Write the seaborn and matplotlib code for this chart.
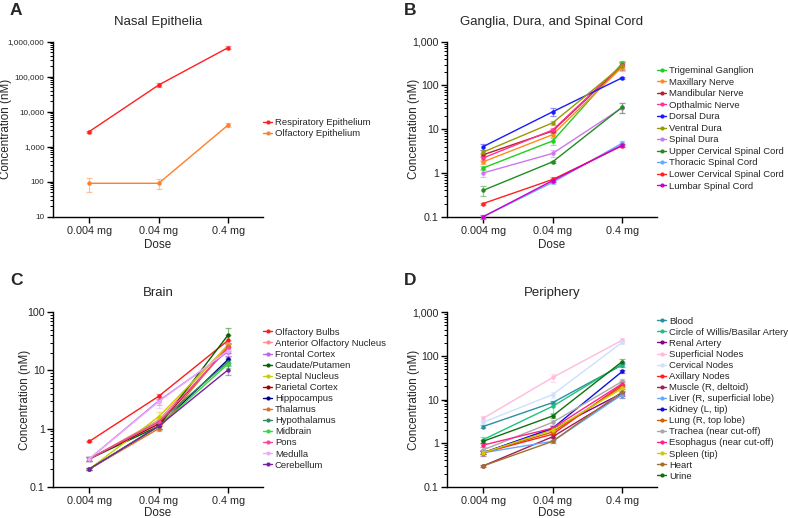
import numpy as np
import pandas as pd
import matplotlib
matplotlib.use("Agg")
import matplotlib.pyplot as plt
import seaborn as sns
from matplotlib.ticker import FuncFormatter, LogLocator, NullFormatter
from matplotlib.lines import Line2D

# ---------------- data ----------------
doses = ["0.004 mg", "0.04 mg", "0.4 mg"]

A_names = ["Respiratory Epithelium", "Olfactory Epithelium"]
A_colors = ["#ff2020", "#ff7f2a"]
A_values = [[2700, 58000, 680000],
            [90, 90, 4200]]
A_err = [[200, 8000, 70000],
         [40, 28, 600]]

B_names = ["Trigeminal Ganglion", "Maxillary Nerve", "Mandibular Nerve", "Opthalmic Nerve",
           "Dorsal Dura", "Ventral Dura", "Spinal Dura", "Upper Cervical Spinal Cord",
           "Thoracic Spinal Cord", "Lower Cervical Spinal Cord", "Lumbar Spinal Cord"]
B_colors = ["#22cc22", "#ff8c1a", "#b22234", "#ff3399", "#1a1aff", "#999900",
            "#cc77ee", "#228b22", "#66aaff", "#ff2020", "#cc00cc"]
B_values = [[1.3, 5.4, 320],
            [1.8, 7.5, 265],
            [2.6, 9.1, 290],
            [2.2, 9.6, 300],
            [4.0, 25, 150],
            [3.0, 14, 280],
            [1.0, 2.8, 31],
            [0.40, 1.8, 32],
            [0.10, 0.61, 4.8],
            [0.20, 0.71, 4.2],
            [0.10, 0.67, 4.3]]
B_err = [[0.15, 1.0, 40],
         [0.2, 1.0, 50],
         [0.3, 1.0, 60],
         [0.3, 1.0, 50],
         [0.6, 5.0, 10],
         [0.3, 1.5, 40],
         [0.2, 0.5, 8],
         [0.1, 0.1, 8],
         [0.01, 0.05, 0.5],
         [0.01, 0.08, 0.3],
         [0.01, 0.05, 0.3]]

C_names = ["Olfactory Bulbs", "Anterior Olfactory Nucleus", "Frontal Cortex", "Caudate/Putamen",
           "Septal Nucleus", "Parietal Cortex", "Hippocampus", "Thalamus", "Hypothalamus",
           "Midbrain", "Pons", "Medulla", "Cerebellum"]
C_colors = ["#ff1a1a", "#ff8c8c", "#bb66ee", "#006400", "#cccc00", "#aa0000", "#000088",
            "#e07020", "#338866", "#33dd33", "#ff4499", "#eeaaff", "#7a1fa2"]
C_values = [[0.60, 3.6, 33],
            [0.30, 1.4, 28],
            [0.30, 3.0, 21],
            [0.30, 1.1, 41],
            [0.20, 1.6, 27],
            [0.30, 1.2, 25],
            [0.20, 1.1, 15.5],
            [0.20, 1.0, 26],
            [0.30, 1.3, 14],
            [0.20, 1.1, 13],
            [0.30, 1.3, 24],
            [0.30, 2.9, 22],
            [0.20, 1.1, 10.3]]
C_err = [[0.02, 0.4, 8],
         [0.02, 0.2, 5],
         [0.02, 0.5, 4],
         [0.02, 0.1, 12],
         [0.01, 0.3, 5],
         [0.02, 0.1, 5],
         [0.01, 0.1, 2],
         [0.01, 0.1, 4],
         [0.02, 0.1, 2],
         [0.01, 0.1, 2],
         [0.02, 0.2, 4],
         [0.02, 0.6, 4],
         [0.01, 0.1, 2]]

D_names = ["Blood", "Circle of Willis/Basilar Artery", "Renal Artery", "Superficial Nodes",
           "Cervical Nodes", "Axillary Nodes", "Muscle (R, deltoid)", "Liver (R, superficial lobe)",
           "Kidney (L, tip)", "Lung (R, top lobe)", "Trachea (near cut-off)",
           "Esophagus (near cut-off)", "Spleen (tip)", "Heart", "Urine"]
D_colors = ["#2a90a0", "#20c080", "#880088", "#ffbbdd", "#cce0ff", "#ff2222", "#a0205a",
            "#66aaff", "#1010dd", "#d06000", "#a8a8a8", "#ff2288", "#cccc00", "#a07030", "#107010"]
D_values = [[2.4, 8.5, 62],
            [1.2, 7.0, 65],
            [0.6, 2.1, 14],
            [3.7, 32, 230],
            [3.0, 13, 205],
            [0.6, 1.6, 22],
            [0.3, 1.4, 13],
            [0.6, 1.1, 13],
            [0.6, 2.2, 44],
            [0.6, 1.8, 20],
            [0.7, 3.0, 26],
            [0.9, 2.2, 23],
            [0.6, 2.0, 18],
            [0.3, 1.1, 15],
            [1.1, 4.2, 74]]
D_err = [[0.2, 0.8, 6],
         [0.2, 2.0, 8],
         [0.1, 0.2, 2],
         [0.5, 7, 30],
         [0.3, 2, 20],
         [0.05, 0.2, 3],
         [0.02, 0.1, 2],
         [0.05, 0.1, 2],
         [0.05, 0.3, 4],
         [0.05, 0.2, 3],
         [0.1, 0.4, 4],
         [0.1, 0.3, 3],
         [0.05, 0.2, 2],
         [0.02, 0.1, 2],
         [0.1, 0.5, 10]]

# ---------------- style ----------------
sns.set_theme(style="ticks")
plt.rcParams["font.family"] = ["Liberation Sans", "DejaVu Sans"]
plt.rcParams["axes.linewidth"] = 1.0

fig = plt.figure(figsize=(7.88, 5.18), dpi=100)

W, H = 788.0, 518.0
panels = [
    ("A", "Nasal Epithelia", A_names, A_colors, A_values, A_err, (53, 41.7, 263, 216.7), (10, 1e6), 12, 0.22, 2),
    ("B", "Ganglia, Dura, and Spinal Cord", B_names, B_colors, B_values, B_err, (447, 41.7, 657, 216.7), (0.1, 1e3), 420, 0.27, 2),
    ("C", "Brain", C_names, C_colors, C_values, C_err, (53, 312.3, 263, 486.7), (0.1, 1e2), 31, 0.22, 0.5),
    ("D", "Periphery", D_names, D_colors, D_values, D_err, (447, 312.3, 657, 486.7), (0.1, 1e3), 420, 0.22, 0.5),
]


def fmt(v, pos):
    if v < 1:
        return f"{v:g}"
    return f"{v:,.0f}"


for letter, title, names, colors, values, errs, box, ylim, ylab_x, lspace, xpad in panels:
    x0, y0, x1, y1 = box
    ax = fig.add_axes([x0 / W, 1 - y1 / H, (x1 - x0) / W, (y1 - y0) / H])
    rows = []
    for n, vals in zip(names, values):
        for i, v in enumerate(vals):
            rows.append({"Tissue": n, "x": i, "Concentration": v})
    df = pd.DataFrame(rows)
    pal = dict(zip(names, colors))
    # error bars
    for n, c, vals, e in zip(names, colors, values, errs):
        ax.errorbar(range(3), vals, yerr=e, fmt="none", ecolor=c, alpha=0.45,
                    elinewidth=0.9, capsize=2, capthick=0.9, clip_on=False, zorder=2)
    sns.lineplot(data=df, x="x", y="Concentration", hue="Tissue", hue_order=names,
                 palette=pal, marker="o", markersize=3.2, markeredgewidth=0,
                 linewidth=1.0, legend=False, ax=ax, clip_on=False, zorder=3)
    ax.set_yscale("log")
    ax.set_ylim(*ylim)
    ax.set_xlim(-0.52, 2.5)
    ax.set_xticks([0, 1, 2])
    ax.set_xticklabels(doses)
    ax.yaxis.set_major_locator(LogLocator(base=10, numticks=12))
    ax.yaxis.set_minor_locator(LogLocator(base=10, subs=np.arange(2, 10), numticks=12))
    ax.yaxis.set_major_formatter(FuncFormatter(fmt))
    ax.yaxis.set_minor_formatter(NullFormatter())
    ytick_size = 5.9 if letter == "A" else 7.7
    ax.tick_params(axis="y", which="major", labelsize=ytick_size, length=4, width=1, pad=2, color="black")
    ax.tick_params(axis="y", which="minor", length=2, width=0.7, color="black")
    ax.tick_params(axis="x", which="major", labelsize=7.8, length=4, width=1, pad=3, color="black")
    for s in ["top", "right"]:
        ax.spines[s].set_visible(False)
    for s in ["left", "bottom"]:
        ax.spines[s].set_color("black")
    ax.set_xlabel("Dose", fontsize=8.4, labelpad=xpad)
    ax.set_ylabel("Concentration (nM)", fontsize=8.4)
    ax.yaxis.set_label_coords((ylab_x - x0) / (x1 - x0), 0.5)
    ax.set_title(title, fontsize=9.5, pad=12)
    handles = [Line2D([0], [0], color=c, marker="o", markersize=3, markeredgewidth=0, linewidth=1.0)
               for c in colors]
    ax.legend(handles, names, loc="center left", bbox_to_anchor=(1.0, 0.505), frameon=False,
              fontsize=6.8, handlelength=1.0, handletextpad=0.25, labelspacing=lspace, borderpad=0,
              borderaxespad=0)
    fig.text((x0 - 43) / W, 1 - (y0 - 39) / H, letter, fontsize=12.5, fontweight="bold",
             va="top", ha="left")

fig.savefig("out.png", dpi=100)
